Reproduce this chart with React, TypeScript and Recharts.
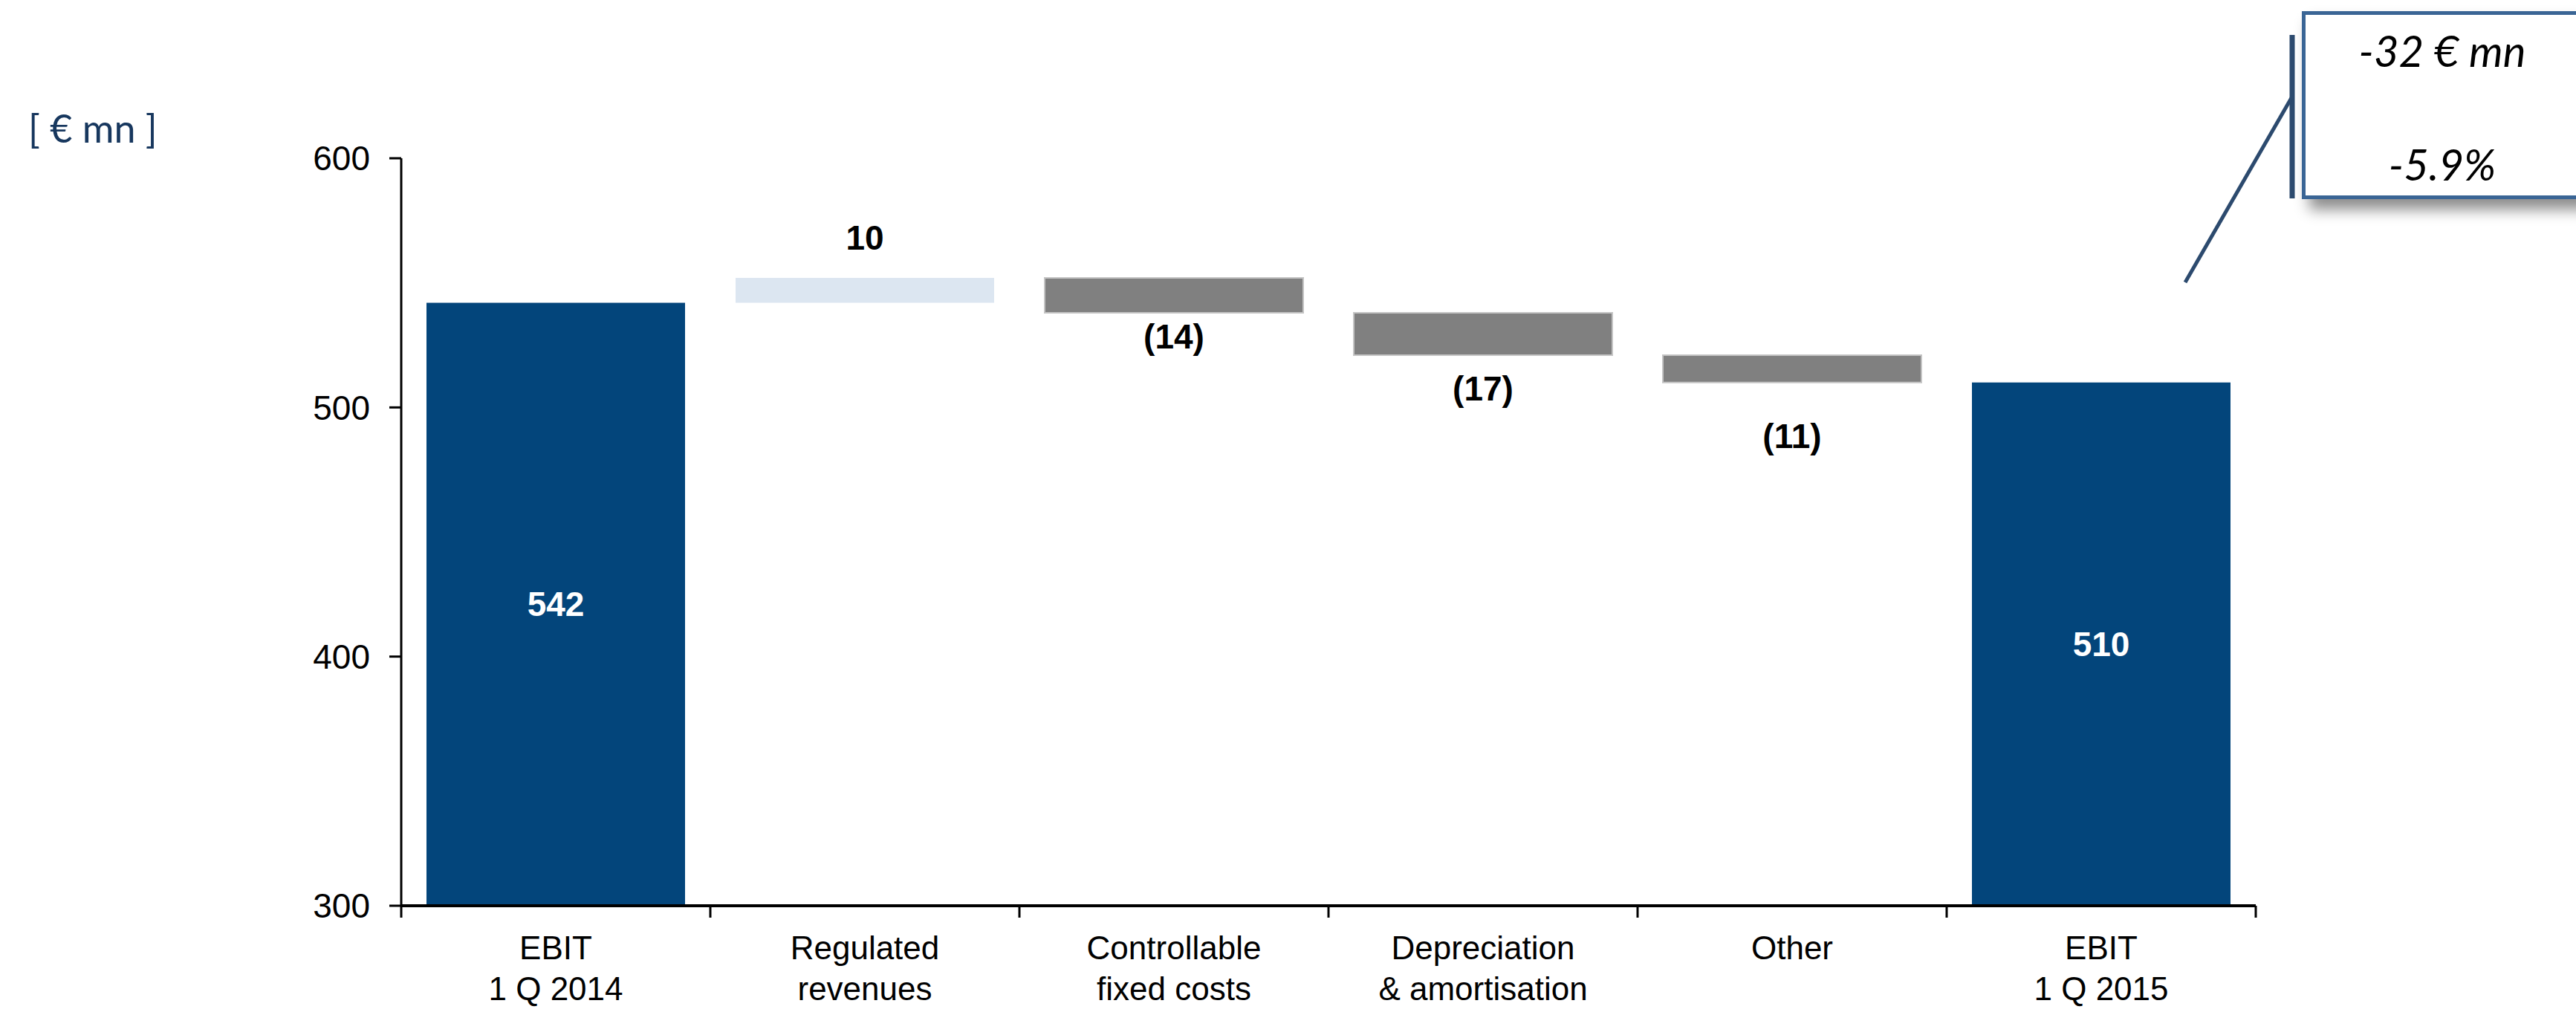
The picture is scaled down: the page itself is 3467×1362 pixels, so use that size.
import { BarChart, Bar, XAxis, YAxis, Cell, LabelList } from 'recharts';

// EBIT bridge, 1 Q 2014 -> 1 Q 2015, € mn
const categories = [
  'EBIT\n1 Q 2014',
  'Regulated\nrevenues',
  'Controllable\nfixed costs',
  'Depreciation\n& amortisation',
  'Other',
  'EBIT\n1 Q 2015',
];
const steps = [542, 10, -14, -17, -11, 510];
const isTotal = [true, false, false, false, false, true];
const yTicks = [300, 400, 500, 600];

const deltaAbs = '-32 € mn';
const deltaPct = '-5.9%';

const NAVY = '#03457B';
const LIGHT = '#DCE6F1';
const GREY = '#808080';
const AXIS_FONT = "'Liberation Sans', Arial, sans-serif";
const NOTE_FONT = "Lato, 'Open Sans', sans-serif";
const TICK = 16;

// distance of each change label from its bar edge
const LABEL_GAP = [0, 54, 32, 45, 72, 0];

// totals stand on the axis floor, changes float from the running level
let level = 0;
const rows = steps.map((v, i) => {
  if (isTotal[i]) {
    level = v;
    return { name: categories[i], range: [yTicks[0], v] };
  }
  const from = level;
  level += v;
  return { name: categories[i], range: [Math.min(from, level), Math.max(from, level)] };
});

const barColor = (i: number) => (isTotal[i] ? NAVY : steps[i] > 0 ? LIGHT : GREY);

const CategoryTick = (props: any) => {
  const { x, y, payload, index, visibleTicksCount } = props;
  const half = payload.offset ?? 0;
  const lines = String(payload.value).split('\n');
  return (
    <g>
      <line x1={x - half} x2={x - half} y1={y - TICK} y2={y} stroke="#000" strokeWidth={3} />
      {index === visibleTicksCount - 1 && (
        <line x1={x + half} x2={x + half} y1={y - TICK} y2={y} stroke="#000" strokeWidth={3} />
      )}
      <text textAnchor="middle" fontSize={44} fontFamily={AXIS_FONT} fill="#000">
        {lines.map((l, i) => (
          <tspan key={i} x={x} y={y + 56 + i * 55}>
            {l}
          </tspan>
        ))}
      </text>
    </g>
  );
};

const ValueLabel = (props: any) => {
  const { x, y, width, height, index } = props;
  const v = steps[index];
  const top = Math.min(y, y + height);
  const bottom = Math.max(y, y + height);
  const cx = x + width / 2;
  const common = {
    x: cx,
    textAnchor: 'middle' as const,
    dominantBaseline: 'central' as const,
    fontSize: 46,
    fontWeight: 700,
    fontFamily: AXIS_FONT,
  };
  if (isTotal[index]) {
    return (
      <text {...common} y={(top + bottom) / 2} fill="#fff">
        {v}
      </text>
    );
  }
  if (v > 0) {
    return (
      <text {...common} y={top - LABEL_GAP[index]} fill="#000">
        {v}
      </text>
    );
  }
  return (
    <text {...common} y={bottom + LABEL_GAP[index]} fill="#000">
      ({Math.abs(v)})
    </text>
  );
};

export default function App() {
  return (
    <div
      style={{
        position: 'absolute',
        left: 0,
        top: 0,
        width: 3467,
        height: 1362,
        overflow: 'hidden',
        background: '#fff',
      }}
    >
      <div
        style={{
          position: 'absolute',
          left: 38,
          top: 138,
          fontFamily: NOTE_FONT,
          fontSize: 52,
          lineHeight: '68px',
          color: '#17375E',
          whiteSpace: 'pre',
        }}
      >
        [ € mn ]
      </div>

      <BarChart
        width={3467}
        height={1362}
        data={rows}
        margin={{ top: 213, right: 431, bottom: 3, left: 420 }}
      >
        <XAxis
          dataKey="name"
          interval={0}
          height={140}
          axisLine={{ stroke: '#000', strokeWidth: 4 }}
          tickLine={false}
          tickSize={TICK}
          tickMargin={0}
          tick={<CategoryTick />}
        />
        <YAxis
          width={120}
          domain={[yTicks[0], yTicks[yTicks.length - 1]]}
          ticks={yTicks}
          allowDataOverflow
          axisLine={{ stroke: '#000', strokeWidth: 3 }}
          tickLine={{ stroke: '#000', strokeWidth: 3 }}
          tickSize={TICK}
          tickMargin={26}
          tick={{ fill: '#000', fontSize: 46, fontFamily: AXIS_FONT }}
        />
        <Bar dataKey="range" barSize={348} isAnimationActive={false}>
          {rows.map((_, i) => (
            <Cell
              key={i}
              fill={barColor(i)}
              stroke={!isTotal[i] && steps[i] < 0 ? '#C4C4C4' : 'none'}
              strokeWidth={2}
            />
          ))}
          <LabelList dataKey="range" content={<ValueLabel />} />
        </Bar>
      </BarChart>

      {/* connector from the last bar to the change callout */}
      <svg
        width={3467}
        height={1362}
        style={{ position: 'absolute', left: 0, top: 0, pointerEvents: 'none' }}
      >
        <line x1={3085} y1={47} x2={3085} y2={267} stroke="#2C4A6E" strokeWidth={7} />
        <line x1={3085} y1={130} x2={2941} y2={380} stroke="#2C4A6E" strokeWidth={5} />
      </svg>

      <div
        style={{
          position: 'absolute',
          left: 3098,
          top: 15,
          width: 378,
          height: 253,
          boxSizing: 'border-box',
          border: '5px solid #3A6595',
          background: '#fff',
          boxShadow: '10px 14px 18px rgba(0,0,0,0.45)',
          fontFamily: NOTE_FONT,
          fontStyle: 'italic',
          fontSize: 58,
          color: '#000',
          textAlign: 'center',
        }}
      >
        <div style={{ position: 'absolute', left: 0, right: 0, top: 14, lineHeight: '68px' }}>
          {deltaAbs}
        </div>
        <div style={{ position: 'absolute', left: 0, right: 0, top: 167, lineHeight: '68px' }}>
          {deltaPct}
        </div>
      </div>
    </div>
  );
}
